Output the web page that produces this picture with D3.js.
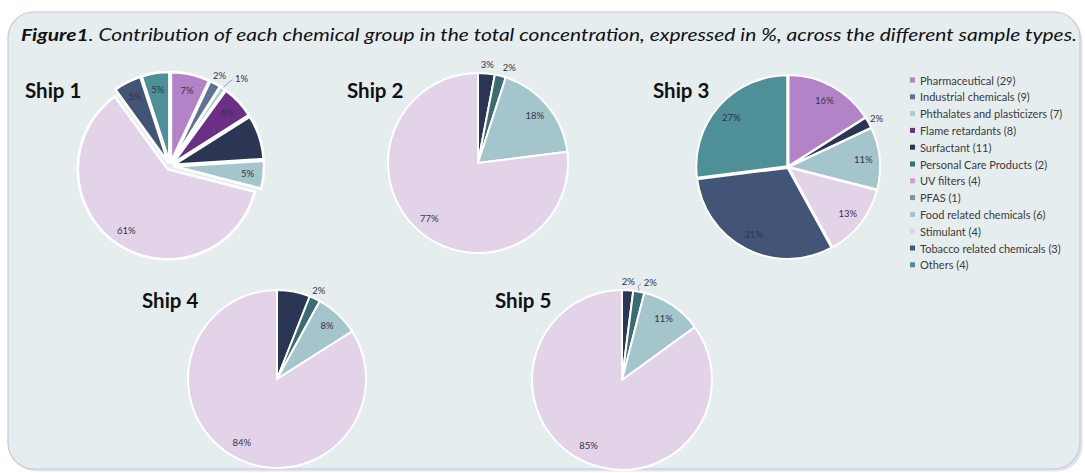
<!DOCTYPE html>
<html>
<head>
<meta charset="utf-8">
<script src="https://cdn.jsdelivr.net/npm/d3@7"></script>
<style>
  html, body { margin: 0; padding: 0; background: #ffffff; }
  svg { display: block; }
  text { font-family: Lato, "Open Sans", "Liberation Sans", sans-serif; }
</style>
</head>
<body>
<svg id="chart" width="1085" height="473"></svg>
<script>
// Chemical groups (legend order = slice order, clockwise from 12 o'clock)
const groups = [
  "Pharmaceutical (29)",
  "Industrial chemicals (9)",
  "Phthalates and plasticizers (7)",
  "Flame retardants (8)",
  "Surfactant (11)",
  "Personal Care Products (2)",
  "UV filters (4)",
  "PFAS (1)",
  "Food related chemicals (6)",
  "Stimulant (4)",
  "Tobacco related chemicals (3)",
  "Others (4)"
];
const groupColors = [
  "#b383c8", "#5f7399", "#a6d0cd", "#6b2f86", "#2b3654", "#3a6d72",
  "#d59cda", "#8290b0", "#a4c5cb", "#e3d3e9", "#435576", "#4f8f98"
];

const ships = ["Ship 1", "Ship 2", "Ship 3", "Ship 4", "Ship 5"];

// Share of each group in the total concentration (%), per ship
const ship1 = [7, 2, 1, 6, 8, 0, 0, 0, 5, 61, 5, 5];
const ship2 = [0, 0, 0, 0, 3, 2, 0, 0, 18, 77, 0, 0];
const ship3 = [16, 0, 0, 0, 2, 0, 0, 0, 11, 13, 31, 27];
const ship4 = [0, 0, 0, 0, 6, 2, 0, 0, 8, 84, 0, 0];
const ship5 = [0, 0, 0, 0, 2, 2, 0, 0, 11, 85, 0, 0];
const shipValues = [ship1, ship2, ship3, ship4, ship5];

const titleBold = "Figure1";
const titleRest = ". Contribution of each chemical group in the total concentration, expressed in %, across the different sample types.";

// Layout of each pie on the page
const layout = [
  { cx: 170, cy: 166, r: 90, explode: 4, stroke: 2.6, tx: 25,  ty: 98 },
  { cx: 478, cy: 163, r: 90, explode: 0, stroke: 2,   tx: 347, ty: 98 },
  { cx: 788, cy: 167, r: 91, explode: 1, stroke: 2,   tx: 653, ty: 98 },
  { cx: 277, cy: 379, r: 89, explode: 0, stroke: 2,   tx: 142, ty: 308 },
  { cx: 622, cy: 380, r: 90, explode: 0, stroke: 2,   tx: 495, ty: 308 }
];

const svg = d3.select("#chart");

// Rounded background panel
svg.append("rect")
  .attr("x", 9).attr("y", 13).attr("width", 1072).attr("height", 457)
  .attr("rx", 26).attr("ry", 26)
  .attr("fill", "#cfd6da").attr("opacity", 0.6)
  .attr("transform", "translate(1.5,1.5)");
svg.append("rect")
  .attr("x", 8).attr("y", 12).attr("width", 1072).attr("height", 457)
  .attr("rx", 26).attr("ry", 26)
  .attr("fill", "#e5edef")
  .attr("stroke", "#cbc6da").attr("stroke-width", 1.2);

// Title
const title = svg.append("text")
  .attr("x", 21).attr("y", 41)
  .attr("font-size", 17.5)
  .attr("font-style", "italic")
  .attr("fill", "#111");
title.append("tspan").attr("font-weight", "bold").text(titleBold);
title.append("tspan").text(titleRest);
title.attr("textLength", 1056).attr("lengthAdjust", "spacingAndGlyphs");

const color = d3.scaleOrdinal().domain(groups).range(groupColors);
const pie = d3.pie().sort(null).value(d => d.value);

shipValues.forEach((vals, i) => {
  const L = layout[i];
  const data = groups.map((g, k) => ({ group: g, value: vals[k] }));
  const arcs = pie(data).filter(a => a.data.value > 0);
  const arc = d3.arc().innerRadius(0).outerRadius(L.r);
  const g = svg.append("g").attr("transform", `translate(${L.cx},${L.cy})`);

  const mid = a => (a.startAngle + a.endAngle) / 2;
  const offset = (a, dist) => [Math.sin(mid(a)) * dist, -Math.cos(mid(a)) * dist];

  g.selectAll("path.slice").data(arcs).join("path")
    .attr("class", "slice")
    .attr("d", arc)
    .attr("transform", a => { const o = offset(a, L.explode); return `translate(${o[0]},${o[1]})`; })
    .attr("fill", a => color(a.data.group))
    .attr("stroke", "#ffffff")
    .attr("stroke-width", L.stroke)
    .attr("stroke-linejoin", "round");

  // Percentage labels: inside for larger slices, outside for thin ones
  let prev = null;
  arcs.forEach(a => {
    const v = a.data.value;
    let p, leader = null;
    if (v > 3) {
      p = offset(a, L.r * 0.82 + L.explode);
    } else {
      p = offset(a, L.r + L.explode + 9);
      if (prev && Math.abs(p[0] - prev[0]) < 20 && Math.abs(p[1] - prev[1]) < 12) {
        const nx = prev[0] + 22;
        if (nx - p[0] > 8) {
          const e = offset(a, L.r + L.explode + 1);
          leader = [e, [nx - 9, Math.min(p[1], prev[1] + 3) + 1]];
        }
        p = [nx, Math.min(p[1], prev[1] + 3)];
      }
      prev = p;
    }
    if (leader) {
      g.append("path")
        .attr("d", d3.line()([leader[0], [leader[1][0] - 3, leader[1][1] + 2], leader[1]]))
        .attr("fill", "none").attr("stroke", "#8a8a94").attr("stroke-width", 0.8);
    }
    g.append("text")
      .attr("x", p[0]).attr("y", p[1])
      .attr("text-anchor", "middle")
      .attr("dominant-baseline", "central")
      .attr("font-size", 9.5)
      .attr("fill", "#33334a")
      .text(v + "%");
  });

  svg.append("text")
    .attr("x", L.tx).attr("y", L.ty)
    .attr("font-size", 20.5)
    .attr("font-weight", "bold")
    .attr("fill", "#111")
    .text(ships[i]);
});

// Legend
const legend = svg.append("g").attr("transform", "translate(910,80)");
const rows = legend.selectAll("g").data(groups).join("g")
  .attr("transform", (d, k) => `translate(0,${k * 16.8})`);
rows.append("rect")
  .attr("x", 0).attr("y", -2.5).attr("width", 5).attr("height", 5)
  .attr("fill", d => color(d));
rows.append("text")
  .attr("x", 10).attr("y", 0)
  .attr("dominant-baseline", "central")
  .attr("font-size", 11)
  .attr("fill", "#3a3a3a")
  .text(d => d);
</script>
</body>
</html>
